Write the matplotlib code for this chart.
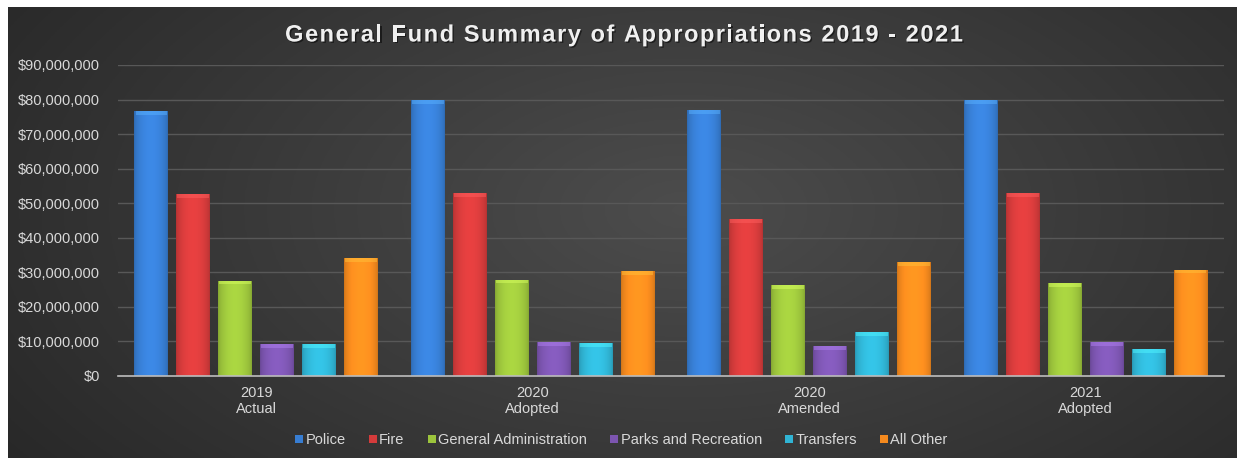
import numpy as np
import matplotlib.pyplot as plt
import matplotlib.patheffects as pe
from matplotlib.colors import to_rgb
from matplotlib.font_manager import FontProperties
from matplotlib.patches import Patch
from matplotlib.ticker import FuncFormatter, MultipleLocator

plt.rcParams['font.family'] = ['Liberation Sans', 'DejaVu Sans']

periods = ['2019\nActual', '2020\nAdopted', '2020\nAmended', '2021\nAdopted']
departments = ['Police', 'Fire', 'General Administration', 'Parks and Recreation',
               'Transfers', 'All Other']

# appropriations in dollars, one list per department, ordered like `periods`
police = [76_600_000, 79_900_000, 77_000_000, 79_900_000]
fire = [52_600_000, 53_000_000, 45_500_000, 53_000_000]
general_admin = [27_600_000, 27_900_000, 26_400_000, 27_000_000]
parks = [9_200_000, 9_900_000, 8_600_000, 9_800_000]
transfers = [9_200_000, 9_500_000, 12_800_000, 7_900_000]
all_other = [34_100_000, 30_300_000, 33_000_000, 30_800_000]

series = [police, fire, general_admin, parks, transfers, all_other]
colors = ['#377dd2', '#d43b3b', '#9cc43c', '#7c55b0', '#30b4d4', '#f58a1e']

title = 'General Fund Summary of Appropriations 2019 - 2021'

fig = plt.figure(figsize=(12.38, 4.58), dpi=100)

# dark backdrop with a soft radial glow
bg = fig.add_axes([8 / 1238, 0, 1229 / 1238, 451 / 458])
gx, gy = np.meshgrid(np.linspace(0, 1, 400), np.linspace(0, 1, 200))
r = np.sqrt(((gx - 0.55) / 0.75) ** 2 + ((gy - 0.45) / 1.1) ** 2)
shade = np.clip(0.30 - 0.16 * r, 0.14, 0.30)
bg.imshow(np.dstack([shade] * 3), extent=[0, 1, 0, 1], aspect='auto', origin='upper')
bg.set_axis_off()

ax = fig.add_axes([118 / 1238, 1 - 376 / 458, 1106 / 1238, 311 / 458])
ax.patch.set_alpha(0)

x = np.arange(len(periods))
step = 0.1516
width = 0.1227
for i, (vals, c) in enumerate(zip(series, colors)):
    offs = (i - 2.5) * step
    bars = ax.bar(x + offs, vals, width, color=c, edgecolor='none', zorder=3)
    base = np.array(to_rgb(c))
    grad = np.linspace(0, 1, 50)
    prof = 0.85 + 0.25 * np.sin(np.pi * grad) ** 0.6
    img = np.clip(base[None, :] * prof[:, None], 0, 1)[None, :, :]
    cap = np.clip(base * 1.25 + 0.08, 0, 1)
    for b in bars:
        bx, bw, bh = b.get_x(), b.get_width(), b.get_height()
        # horizontal shading for a rounded, glossy look
        im = ax.imshow(img, extent=[bx, bx + bw, 0, bh], aspect='auto', zorder=3.5,
                       interpolation='bilinear')
        im.set_clip_path(b)
        # light bevel along the top edge
        ax.bar(bx + bw / 2, 1_100_000, bw * 0.94, bottom=bh - 1_100_000,
               color=cap, alpha=0.5, edgecolor='none', zorder=4)

ax.set_xlim(-0.5, 3.5)
ax.set_ylim(0, 90_000_000)
ax.yaxis.set_major_locator(MultipleLocator(10_000_000))
ax.yaxis.set_major_formatter(FuncFormatter(lambda v, p: f'${v:,.0f}'))
ax.set_xticks(x)
ax.set_xticklabels(periods)
ax.tick_params(colors='#d9d9d9', labelsize=10.5, length=0)
ax.tick_params(axis='y', pad=13)
ax.tick_params(axis='x', pad=7)
ax.grid(axis='y', color='#585858', linewidth=1, zorder=0)
for s in ['top', 'right', 'left']:
    ax.spines[s].set_visible(False)
ax.spines['bottom'].set_color('#bdbdbd')
ax.spines['bottom'].set_linewidth(1.2)
ax.spines['bottom'].set_zorder(5)

# title with extra letter spacing, laid out one glyph at a time
tprops = FontProperties(family='Liberation Sans', weight='bold', size=17)
renderer = fig.canvas.get_renderer()


def text_w(s):
    w, _, _ = renderer.get_text_width_height_descent(s + '|', tprops, ismath=False)
    w0, _, _ = renderer.get_text_width_height_descent('|', tprops, ismath=False)
    return w - w0


spacing = 1.5
total = text_w(title) + spacing * (len(title) - 1)
x0 = 624 - total / 2
shadow = [pe.withSimplePatchShadow(offset=(1, -1), shadow_rgbFace='black', alpha=0.5)]
for k, ch in enumerate(title):
    if ch == ' ':
        continue
    px = x0 + text_w(title[:k]) + spacing * k
    fig.text(px / 1238, 1 - 35 / 458, ch, ha='left', va='center', color='#f0f0f0',
             fontproperties=tprops, path_effects=shadow)

handles = [Patch(facecolor=c, edgecolor='none') for c in colors]
fig.legend(handles, departments, loc='center', bbox_to_anchor=(0.502, 0.039), ncol=6,
           frameon=False, fontsize=10.5, labelcolor='#d9d9d9', handlelength=0.55,
           handleheight=0.55, handletextpad=0.15, columnspacing=1.6)

fig.savefig('out.png', dpi=100, facecolor='white')
